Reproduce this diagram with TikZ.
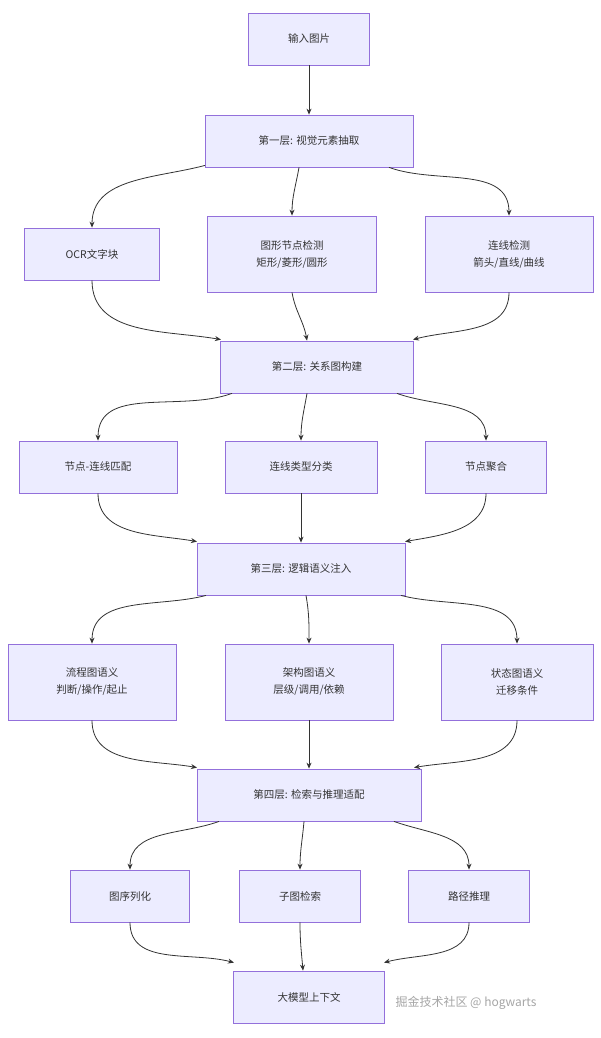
\documentclass[tikz,border=0pt]{standalone}
\usepackage{fontspec}
\setmainfont{Noto Sans CJK SC}
\usetikzlibrary{arrows.meta}
\definecolor{nfill}{HTML}{ECECFF}
\definecolor{nline}{HTML}{9370DB}
\definecolor{eline}{HTML}{333333}
\begin{document}
\begin{tikzpicture}[x=1pt,y=-1pt,
  box/.style={draw=nline,fill=nfill,line width=0.8pt,inner sep=0pt,font=\fontsize{10.5}{17}\selectfont,align=center,text=eline},
  e/.style={draw=eline,line width=0.8pt,-{Stealth[length=6pt,width=5pt]}}]
\useasboundingbox[fill=white] (0,0) rectangle (601,1038);
\newcommand\bx[6]{\node[box,minimum width=#4,minimum height=#5] (#1) at (#2,#3) {#6};}
\bx{in}{309}{39}{121}{52}{输入图片}
\bx{L1}{309}{141}{208}{52}{第一层: 视觉元素抽取}
\bx{ocr}{92}{254}{135}{52}{OCR文字块}
\bx{sd}{292}{254}{169}{76}{图形节点检测\\矩形/菱形/圆形}
\bx{ld}{509}{254}{168}{76}{连线检测\\箭头/直线/曲线}
\bx{L2}{317}{367}{193}{52}{第二层: 关系图构建}
\bx{nm}{98}{467}{158}{52}{节点-连线匹配}
\bx{lt}{301}{467}{152}{52}{连线类型分类}
\bx{na}{486}{467}{121}{52}{节点聚合}
\bx{L3}{301}{569}{208}{52}{第三层: 逻辑语义注入}
\bx{fl}{92}{682}{168}{76}{流程图语义\\判断/操作/起止}
\bx{ar}{309}{682}{168}{76}{架构图语义\\层级/调用/依赖}
\bx{st}{517}{682}{152}{76}{状态图语义\\迁移条件}
\bx{L4}{309}{795}{224}{52}{第四层: 检索与推理适配}
\bx{se}{130}{896}{119}{52}{图序列化}
\bx{sg}{300}{896}{121}{52}{子图检索}
\bx{pr}{469}{896}{121}{52}{路径推理}
\bx{llm}{309}{997}{151}{52}{大模型上下文}
\draw[e] (in) -- (L1);
% layer 1
\draw[e] ([xshift=-104pt]L1.south) ++(0,-2) to[out=-165,in=90] (ocr.north);
\draw[e] ([xshift=-10pt]L1.south) to[out=-100,in=90] (sd.north);
\draw[e] ([xshift=80pt]L1.south) to[out=-20,in=90] (ld.north);
\draw[e] (ocr.south) to[out=-90,in=170] ([xshift=-96pt,yshift=1pt]L2.north);
\draw[e] (sd.south) to[out=-80,in=100] ([xshift=-10pt]L2.north);
\draw[e] (ld.south) to[out=-90,in=15] ([xshift=96pt,yshift=1pt]L2.north);
% layer 2
\draw[e] ([xshift=-85pt]L2.south) to[out=-160,in=90] (nm.north);
\draw[e] ([xshift=-10pt]L2.south) to[out=-100,in=90] (lt.north);
\draw[e] ([xshift=80pt]L2.south) to[out=-20,in=90] (na.north);
\draw[e] (nm.south) to[out=-90,in=170] ([xshift=-104pt,yshift=1pt]L3.north);
\draw[e] (lt.south) -- (L3.north);
\draw[e] (na.south) to[out=-90,in=10] ([xshift=104pt,yshift=1pt]L3.north);
% layer 3
\draw[e] ([xshift=-95pt]L3.south) to[out=-165,in=90] (fl.north);
\draw[e] ([xshift=5pt]L3.south) to[out=-80,in=90] (ar.north);
\draw[e] ([xshift=100pt]L3.south) to[out=-15,in=90] (st.north);
\draw[e] (fl.south) to[out=-90,in=170] ([xshift=-112pt,yshift=1pt]L4.north);
\draw[e] (ar.south) -- (L4.north);
\draw[e] (st.south) to[out=-90,in=10] ([xshift=105pt,yshift=1pt]L4.north);
% layer 4
\draw[e] ([xshift=-90pt]L4.south) to[out=-160,in=90] (se.north);
\draw[e] ([xshift=-5pt]L4.south) to[out=-95,in=90] (sg.north);
\draw[e] ([xshift=85pt]L4.south) to[out=-20,in=90] (pr.north);
\draw[e] (se.south) to[out=-90,in=165] ([xshift=-75pt,yshift=8pt]llm.north);
\draw[e] (sg.south) to[out=-90,in=95] ([xshift=-6pt]llm.north);
\draw[e] (pr.south) to[out=-90,in=15] ([xshift=75pt,yshift=8pt]llm.north);
\node[text=gray!70,font=\fontsize{12}{14}\selectfont] (wm) at (466,1003) {掘金技术社区 @ hogwarts};
\end{tikzpicture}
\end{document}
